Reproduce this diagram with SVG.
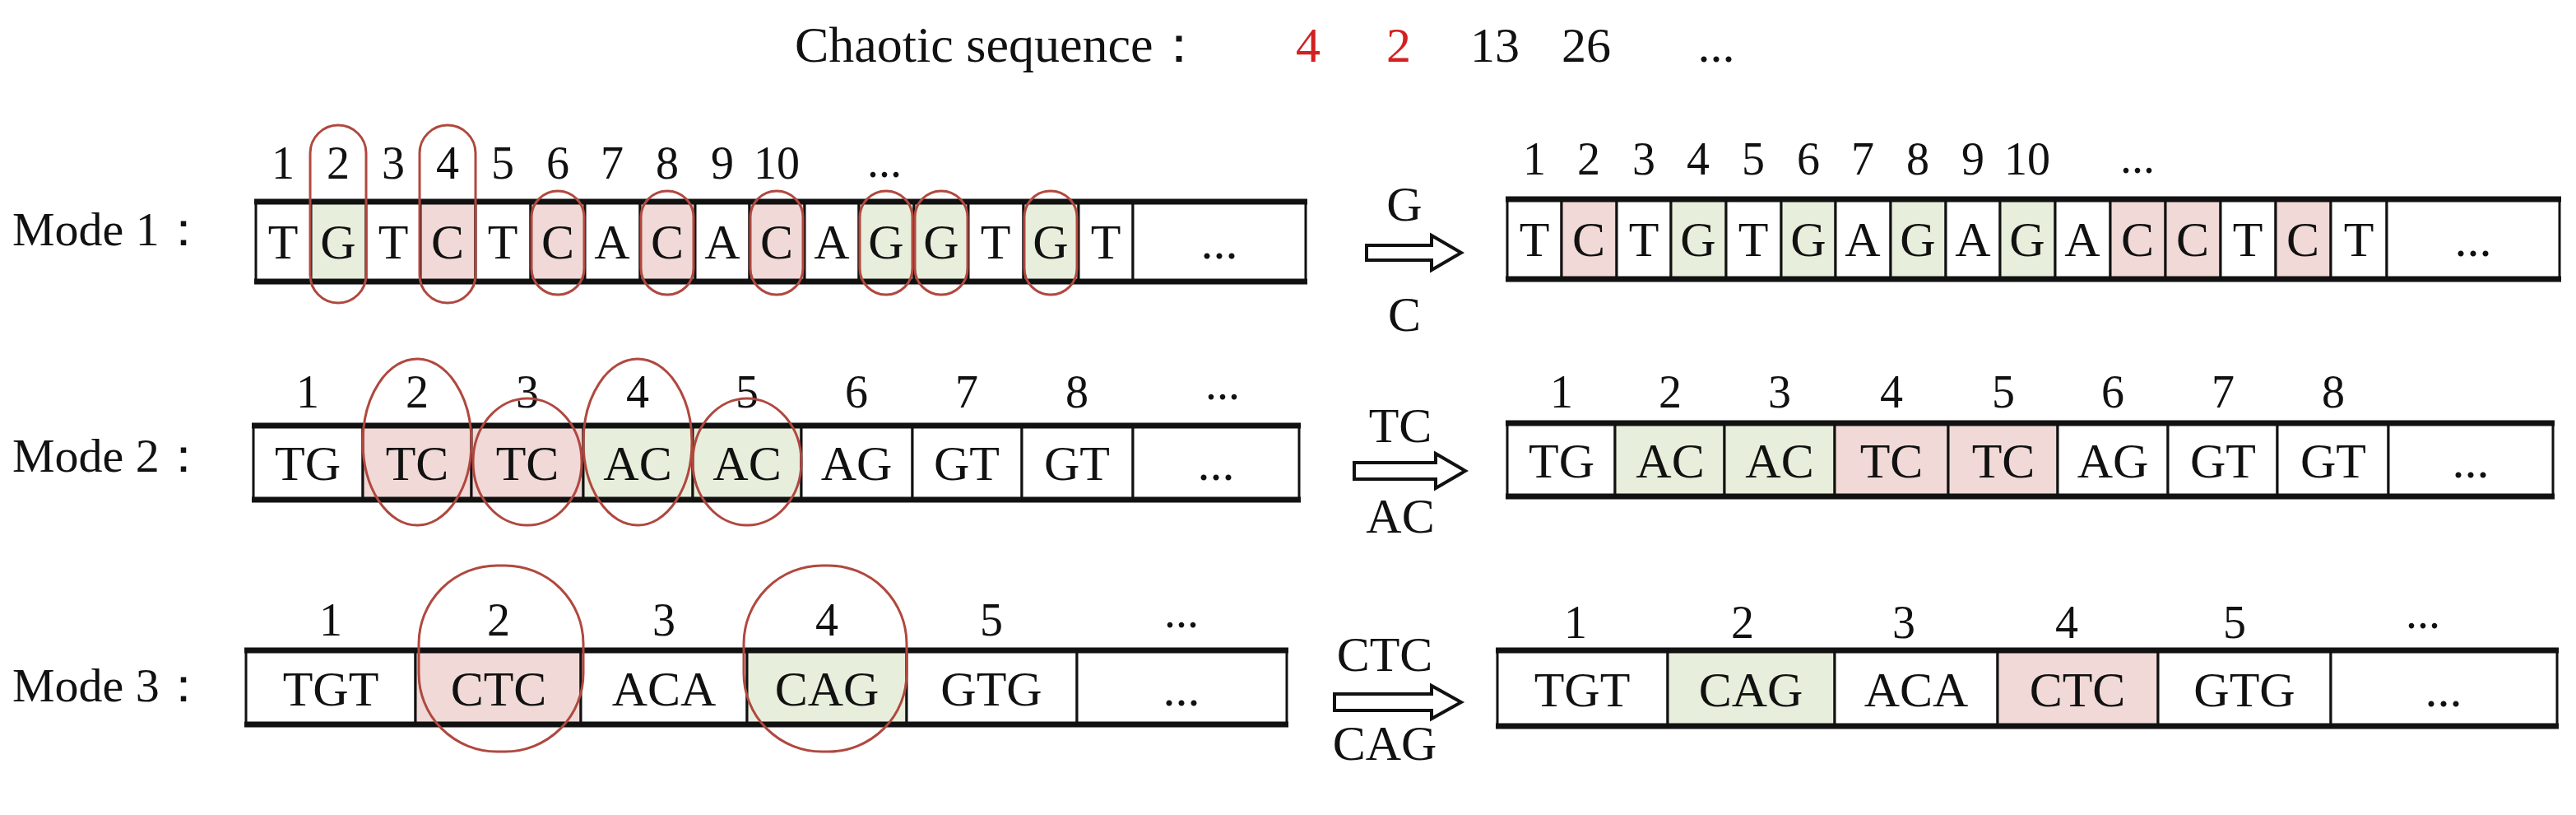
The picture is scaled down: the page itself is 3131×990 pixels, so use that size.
<svg xmlns="http://www.w3.org/2000/svg" width="3131" height="990" viewBox="0 0 3131 990">
<defs>
<style>
text{font-family:"Liberation Serif","Times New Roman",serif;fill:#111;text-anchor:middle}
.lbl{font-size:58px;text-anchor:start}
.t{font-size:60px}
.n{font-size:56px}
.cell{fill:#fff;stroke:#111;stroke-width:3}
.r{fill:#f0d9d6;stroke:#111;stroke-width:3}
.g{fill:#e7eedb;stroke:#111;stroke-width:3}
.edge{stroke:#111;stroke-width:7}
.ov{fill:none;stroke:#b0483f;stroke-width:3}
.arr{fill:#fff;stroke:#111;stroke-width:4;stroke-linejoin:miter}
.red{fill:#d42020}
</style>
</defs>
<g id="title">
<text x="966" y="75" style="font-size:62px;text-anchor:start">Chaotic sequence：</text>
<text x="1590" y="75" class="t red">4</text>
<text x="1700" y="75" class="t red">2</text>
<text x="1817" y="75" class="t">13</text>
<text x="1928" y="75" class="t">26</text>
<text x="2086" y="75" class="t">...</text>
</g>
<g id="mode1-left">
<text x="15" y="298" class="lbl">Mode 1：</text>
<g>
<rect class="cell" x="311" y="245" width="67" height="97"/><rect class="g" x="378" y="245" width="67" height="97"/><rect class="cell" x="445" y="245" width="66" height="97"/><rect class="r" x="511" y="245" width="67" height="97"/><rect class="cell" x="578" y="245" width="67" height="97"/><rect class="r" x="645" y="245" width="66" height="97"/><rect class="cell" x="711" y="245" width="67" height="97"/><rect class="r" x="778" y="245" width="67" height="97"/><rect class="cell" x="845" y="245" width="66" height="97"/><rect class="r" x="911" y="245" width="67" height="97"/><rect class="cell" x="978" y="245" width="66" height="97"/><rect class="g" x="1044" y="245" width="67" height="97"/><rect class="g" x="1111" y="245" width="66" height="97"/><rect class="cell" x="1177" y="245" width="67" height="97"/><rect class="g" x="1244" y="245" width="67" height="97"/><rect class="cell" x="1311" y="245" width="66" height="97"/><rect class="cell" x="1377" y="245" width="210" height="97"/>
<line class="edge" x1="309" y1="245" x2="1589" y2="245"/><line class="edge" x1="309" y1="342" x2="1589" y2="342"/>
</g>
<g class="t">
<text x="344" y="314">T</text><text x="411" y="314">G</text><text x="478" y="314">T</text><text x="544" y="314">C</text><text x="611" y="314">T</text><text x="678" y="314">C</text><text x="744" y="314">A</text><text x="811" y="314">C</text><text x="878" y="314">A</text><text x="944" y="314">C</text><text x="1011" y="314">A</text><text x="1077" y="314">G</text><text x="1144" y="314">G</text><text x="1210" y="314">T</text><text x="1277" y="314">G</text><text x="1344" y="314">T</text><text x="1482" y="314">...</text>
</g>
<g class="n">
<text x="344" y="217">1</text><text x="411" y="217">2</text><text x="478" y="217">3</text><text x="544" y="217">4</text><text x="611" y="217">5</text><text x="678" y="217">6</text><text x="744" y="217">7</text><text x="811" y="217">8</text><text x="878" y="217">9</text><text x="944" y="217">10</text><text x="1075" y="215">...</text>
</g>
<g>
<rect class="ov" x="377" y="152" width="68" height="216" rx="34"/><rect class="ov" x="510" y="152" width="68" height="216" rx="34"/>
<rect class="ov" x="646" y="232" width="64" height="126" rx="32"/><rect class="ov" x="779" y="232" width="64" height="126" rx="32"/><rect class="ov" x="912" y="232" width="64" height="126" rx="32"/><rect class="ov" x="1045" y="232" width="64" height="126" rx="32"/><rect class="ov" x="1112" y="232" width="64" height="126" rx="32"/><rect class="ov" x="1245" y="232" width="64" height="126" rx="32"/>
</g>
</g>
<g id="mode1-arrow">
<text x="1707" y="268" class="t">G</text>
<text x="1707" y="402" class="t">C</text>
<polygon class="arr" points="1661,298 1740,298 1740,286 1776,307 1740,328 1740,316 1661,316"/>
</g>
<g id="mode1-right">
<g>
<rect class="cell" x="1832" y="242" width="66" height="97"/><rect class="r" x="1898" y="242" width="67" height="97"/><rect class="cell" x="1965" y="242" width="66" height="97"/><rect class="g" x="2031" y="242" width="67" height="97"/><rect class="cell" x="2098" y="242" width="67" height="97"/><rect class="g" x="2165" y="242" width="66" height="97"/><rect class="cell" x="2231" y="242" width="67" height="97"/><rect class="g" x="2298" y="242" width="67" height="97"/><rect class="cell" x="2365" y="242" width="66" height="97"/><rect class="g" x="2431" y="242" width="67" height="97"/><rect class="cell" x="2498" y="242" width="67" height="97"/><rect class="r" x="2565" y="242" width="67" height="97"/><rect class="r" x="2632" y="242" width="67" height="97"/><rect class="cell" x="2699" y="242" width="67" height="97"/><rect class="r" x="2766" y="242" width="67" height="97"/><rect class="cell" x="2833" y="242" width="68" height="97"/><rect class="cell" x="2901" y="242" width="210" height="97"/>
<line class="edge" x1="1830" y1="242" x2="3113" y2="242"/><line class="edge" x1="1830" y1="339" x2="3113" y2="339"/>
</g>
<g class="t">
<text x="1865" y="311">T</text><text x="1931" y="311">C</text><text x="1998" y="311">T</text><text x="2064" y="311">G</text><text x="2131" y="311">T</text><text x="2198" y="311">G</text><text x="2264" y="311">A</text><text x="2331" y="311">G</text><text x="2398" y="311">A</text><text x="2464" y="311">G</text><text x="2531" y="311">A</text><text x="2598" y="311">C</text><text x="2665" y="311">C</text><text x="2732" y="311">T</text><text x="2799" y="311">C</text><text x="2867" y="311">T</text><text x="3006" y="311">...</text>
</g>
<g class="n">
<text x="1865" y="212">1</text><text x="1931" y="212">2</text><text x="1998" y="212">3</text><text x="2064" y="212">4</text><text x="2131" y="212">5</text><text x="2198" y="212">6</text><text x="2264" y="212">7</text><text x="2331" y="212">8</text><text x="2398" y="212">9</text><text x="2464" y="212">10</text><text x="2598" y="210">...</text>
</g>
</g>
<g id="mode2-left">
<text x="15" y="573" class="lbl">Mode 2：</text>
<g>
<rect class="cell" x="308" y="517" width="133" height="90"/><rect class="r" x="441" y="517" width="132" height="90"/><rect class="r" x="573" y="517" width="136" height="90"/><rect class="g" x="709" y="517" width="133" height="90"/><rect class="g" x="842" y="517" width="132" height="90"/><rect class="cell" x="974" y="517" width="135" height="90"/><rect class="cell" x="1109" y="517" width="133" height="90"/><rect class="cell" x="1242" y="517" width="135" height="90"/><rect class="cell" x="1377" y="517" width="202" height="90"/>
<line class="edge" x1="306" y1="517" x2="1581" y2="517"/><line class="edge" x1="306" y1="607" x2="1581" y2="607"/>
</g>
<g class="t">
<text x="374" y="583">TG</text><text x="507" y="583">TC</text><text x="641" y="583">TC</text><text x="775" y="583">AC</text><text x="908" y="583">AC</text><text x="1041" y="583">AG</text><text x="1175" y="583">GT</text><text x="1309" y="583">GT</text><text x="1478" y="583">...</text>
</g>
<g class="n">
<text x="374" y="495">1</text><text x="507" y="495">2</text><text x="641" y="495">3</text><text x="775" y="495">4</text><text x="908" y="495">5</text><text x="1041" y="495">6</text><text x="1175" y="495">7</text><text x="1309" y="495">8</text><text x="1486" y="485">...</text>
</g>
<g>
<ellipse class="ov" cx="507" cy="537" rx="66" ry="101"/><ellipse class="ov" cx="775" cy="537" rx="66" ry="101"/>
<ellipse class="ov" cx="641" cy="561" rx="66" ry="77"/><ellipse class="ov" cx="908" cy="561" rx="66" ry="77"/>
</g>
</g>
<g id="mode2-arrow">
<text x="1702" y="537" class="t">TC</text>
<text x="1702" y="647" class="t">AC</text>
<polygon class="arr" points="1646,562 1745,562 1745,551 1781,572 1745,593 1745,582 1646,582"/>
</g>
<g id="mode2-right">
<g>
<rect class="cell" x="1832" y="514" width="131" height="89"/><rect class="g" x="1963" y="514" width="133" height="89"/><rect class="g" x="2096" y="514" width="134" height="89"/><rect class="r" x="2230" y="514" width="138" height="89"/><rect class="r" x="2368" y="514" width="133" height="89"/><rect class="cell" x="2501" y="514" width="134" height="89"/><rect class="cell" x="2635" y="514" width="133" height="89"/><rect class="cell" x="2768" y="514" width="135" height="89"/><rect class="cell" x="2903" y="514" width="200" height="89"/>
<line class="edge" x1="1830" y1="514" x2="3105" y2="514"/><line class="edge" x1="1830" y1="603" x2="3105" y2="603"/>
</g>
<g class="t">
<text x="1898" y="580">TG</text><text x="2030" y="580">AC</text><text x="2163" y="580">AC</text><text x="2299" y="580">TC</text><text x="2435" y="580">TC</text><text x="2568" y="580">AG</text><text x="2702" y="580">GT</text><text x="2836" y="580">GT</text><text x="3003" y="580">...</text>
</g>
<g class="n">
<text x="1898" y="495">1</text><text x="2030" y="495">2</text><text x="2163" y="495">3</text><text x="2299" y="495">4</text><text x="2435" y="495">5</text><text x="2568" y="495">6</text><text x="2702" y="495">7</text><text x="2836" y="495">8</text>
</g>
</g>
<g id="mode3-left">
<text x="15" y="852" class="lbl">Mode 3：</text>
<g>
<rect class="cell" x="299" y="790" width="206" height="90"/><rect class="r" x="505" y="790" width="201" height="90"/><rect class="cell" x="706" y="790" width="202" height="90"/><rect class="g" x="908" y="790" width="194" height="90"/><rect class="cell" x="1102" y="790" width="207" height="90"/><rect class="cell" x="1309" y="790" width="255" height="90"/>
<line class="edge" x1="297" y1="790" x2="1566" y2="790"/><line class="edge" x1="297" y1="880" x2="1566" y2="880"/>
</g>
<g class="t">
<text x="402" y="857">TGT</text><text x="606" y="857">CTC</text><text x="807" y="857">ACA</text><text x="1005" y="857">CAG</text><text x="1205" y="857">GTG</text><text x="1436" y="857">...</text>
</g>
<g class="n">
<text x="402" y="772">1</text><text x="606" y="772">2</text><text x="807" y="772">3</text><text x="1005" y="772">4</text><text x="1205" y="772">5</text><text x="1436" y="762">...</text>
</g>
<g>
<rect class="ov" x="509" y="687" width="200" height="226" rx="95"/><rect class="ov" x="904" y="687" width="198" height="226" rx="95"/>
</g>
</g>
<g id="mode3-arrow">
<text x="1683" y="815" class="t">CTC</text>
<text x="1683" y="923" class="t">CAG</text>
<polygon class="arr" points="1622,843 1740,843 1740,833 1776,853 1740,873 1740,863 1622,863"/>
</g>
<g id="mode3-right">
<g>
<rect class="cell" x="1820" y="790" width="207" height="92"/><rect class="g" x="2027" y="790" width="203" height="92"/><rect class="cell" x="2230" y="790" width="198" height="92"/><rect class="r" x="2428" y="790" width="195" height="92"/><rect class="cell" x="2623" y="790" width="210" height="92"/><rect class="cell" x="2833" y="790" width="275" height="92"/>
<line class="edge" x1="1818" y1="790" x2="3110" y2="790"/><line class="edge" x1="1818" y1="882" x2="3110" y2="882"/>
</g>
<g class="t">
<text x="1923" y="858">TGT</text><text x="2128" y="858">CAG</text><text x="2329" y="858">ACA</text><text x="2525" y="858">CTC</text><text x="2728" y="858">GTG</text><text x="2970" y="858">...</text>
</g>
<g class="n">
<text x="1915" y="775">1</text><text x="2118" y="775">2</text><text x="2314" y="775">3</text><text x="2512" y="775">4</text><text x="2716" y="775">5</text><text x="2945" y="763">...</text>
</g>
</g>
<g id="connectors"></g>
</svg>
